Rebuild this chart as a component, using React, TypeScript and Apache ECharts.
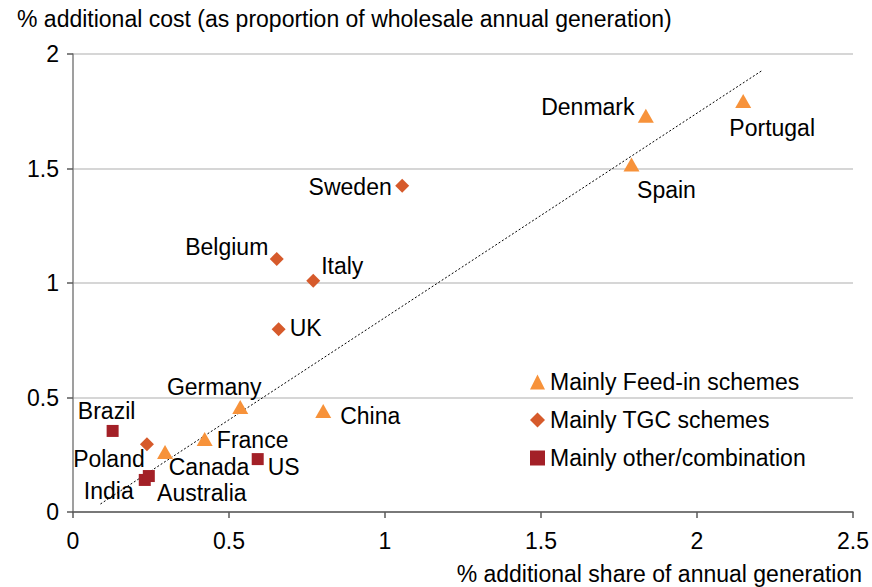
import React, { useEffect, useRef } from "react";
import * as echarts from "echarts";

// ---- data ----
const feedInNames = ["Denmark", "Portugal", "Spain", "Germany", "China", "France", "Canada"];
const feedInX = [1.836, 2.148, 1.79, 0.536, 0.802, 0.422, 0.295];
const feedInY = [1.73, 1.795, 1.517, 0.459, 0.441, 0.319, 0.262];

const tgcNames = ["Sweden", "Belgium", "Italy", "UK", "Poland"];
const tgcX = [1.055, 0.653, 0.77, 0.659, 0.237];
const tgcY = [1.425, 1.105, 1.01, 0.798, 0.296];

const otherNames = ["Brazil", "US", "India", "Australia"];
const otherX = [0.127, 0.592, 0.23, 0.243];
const otherY = [0.354, 0.231, 0.14, 0.157];

const trendX = [0.088, 2.211];
const trendY = [0.035, 1.93];

const xTicks = [0, 0.5, 1, 1.5, 2, 2.5];
const yTicks = [0, 0.5, 1, 1.5, 2];

const seriesNames = ["Mainly Feed-in schemes", "Mainly TGC schemes", "Mainly other/combination"];
const yTitle = "% additional cost (as proportion of wholesale annual generation)";
const xTitle = "% additional share of annual generation";

// label offsets (pixels, text centre relative to marker centre)
const labelOffsets: Record<string, [number, number]> = {
  Denmark: [-58, -9],
  Portugal: [29, 27],
  Spain: [35, 25],
  Germany: [-26, -20],
  China: [47, 5],
  France: [48, 1],
  Canada: [44, 15],
  Sweden: [-52, 1],
  Belgium: [-50, -12],
  Italy: [29, -15],
  UK: [27, -1],
  Poland: [-38, 15],
  Brazil: [-6, -20],
  US: [26, 8],
  India: [-36, 11],
  Australia: [53, 17],
};

const FONT = "Liberation Sans, Arial, sans-serif";
const FS = 23;

function build(names: string[], xs: number[], ys: number[]) {
  return names.map((n, i) => ({
    name: n,
    value: [xs[i], ys[i]],
    label: { offset: labelOffsets[n] || [0, 0] },
  }));
}

export default function App() {
  const ref = useRef<HTMLDivElement>(null);
  useEffect(() => {
    if (!ref.current) return;
    const chart = echarts.init(ref.current, null, { renderer: "svg" });
    const labelCfg = {
      show: true,
      position: "inside",
      formatter: "{b}",
      color: "#000",
      fontSize: FS,
      fontFamily: FONT,
      textBorderWidth: 0,
      lineHeight: 22,
    };
    chart.setOption({
      animation: false,
      backgroundColor: "#fff",
      grid: { left: 73, right: 17, top: 54, bottom: 75 },
      xAxis: {
        type: "value",
        min: 0,
        max: 2.5,
        interval: 0.5,
        axisLine: { show: true, lineStyle: { color: "#5a5a5a", width: 1.5 } },
        axisTick: { show: true, inside: false, length: 6, lineStyle: { color: "#5a5a5a", width: 1.5 } },
        axisLabel: {
          color: "#000",
          fontSize: FS,
          fontFamily: FONT,
          margin: 17,
          formatter: (v: number) => (xTicks.includes(v) ? String(v) : ""),
        },
        splitLine: { show: false },
      },
      yAxis: {
        type: "value",
        min: 0,
        max: 2,
        interval: 0.5,
        axisLine: { show: true, lineStyle: { color: "#7f7f7f", width: 1.5 } },
        axisTick: { show: true, inside: false, length: 6, lineStyle: { color: "#5a5a5a", width: 1.5 } },
        axisLabel: {
          color: "#000",
          fontSize: FS,
          fontFamily: FONT,
          margin: 14,
          formatter: (v: number) => (yTicks.includes(v) ? String(v) : ""),
        },
        splitLine: { show: true, lineStyle: { color: "#c8c8c8", width: 1.5 } },
      },
      legend: {
        orient: "vertical",
        left: 525,
        top: 364,
        itemWidth: 15,
        itemHeight: 15,
        itemGap: 12,
        data: seriesNames,
        textStyle: { color: "#000", fontSize: FS, fontFamily: FONT, lineHeight: 26 },
      },
      graphic: [
        {
          type: "text",
          left: 17,
          top: 7,
          style: { text: yTitle, fill: "#000", font: `${FS}px ${FONT}` },
        },
        {
          type: "text",
          right: 10,
          bottom: 2,
          style: { text: xTitle, fill: "#000", font: `${FS}px ${FONT}` },
        },
      ],
      series: [
        {
          name: "trend",
          type: "line",
          data: trendX.map((x, i) => [x, trendY[i]]),
          showSymbol: false,
          symbol: "none",
          lineStyle: { color: "#000", width: 1, type: [2, 2] },
          silent: true,
          z: 1,
        },
        {
          name: seriesNames[0],
          type: "scatter",
          symbol: "triangle",
          symbolSize: [16, 14],
          itemStyle: { color: "#F7923A", opacity: 1 },
          label: labelCfg,
          data: build(feedInNames, feedInX, feedInY),
          z: 3,
        },
        {
          name: seriesNames[1],
          type: "scatter",
          symbol: "diamond",
          symbolSize: [14, 14],
          itemStyle: { color: "#D65A2B", opacity: 1 },
          label: labelCfg,
          data: build(tgcNames, tgcX, tgcY),
          z: 3,
        },
        {
          name: seriesNames[2],
          type: "scatter",
          symbol: "rect",
          symbolSize: [12, 12],
          itemStyle: { color: "#A32027", opacity: 1 },
          label: labelCfg,
          data: build(otherNames, otherX, otherY),
          z: 3,
        },
      ],
    });
    return () => chart.dispose();
  }, []);
  return <div ref={ref} style={{ width: 872, height: 587, position: "absolute", left: 0, top: 0 }} />;
}
